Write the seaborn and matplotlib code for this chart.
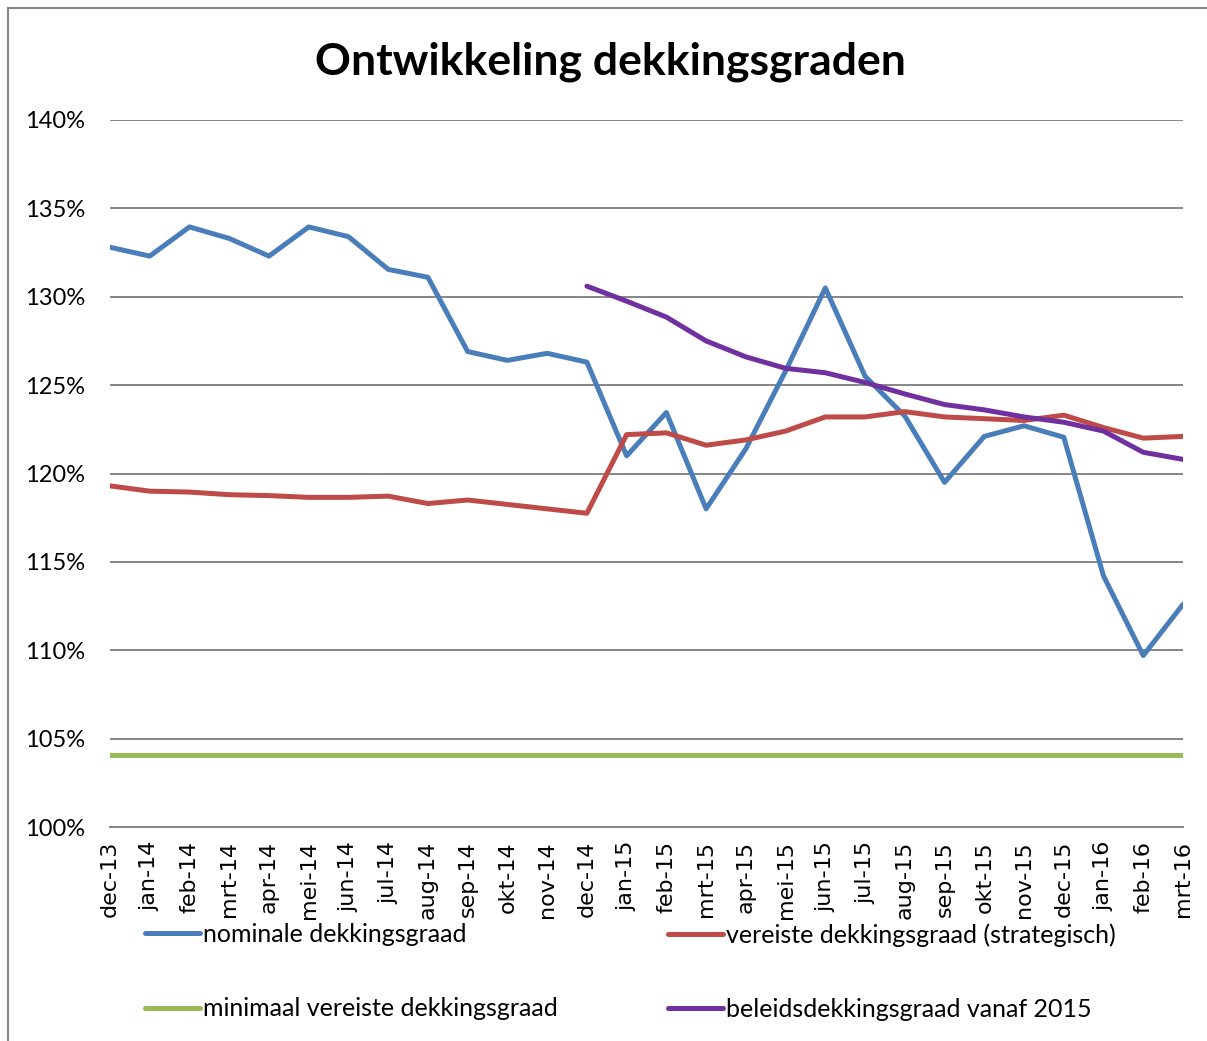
import numpy as np
import pandas as pd
import seaborn as sns
import matplotlib.pyplot as plt
from matplotlib.patches import Rectangle

# months on the x axis
months = ["dec-13", "jan-14", "feb-14", "mrt-14", "apr-14", "mei-14", "jun-14",
          "jul-14", "aug-14", "sep-14", "okt-14", "nov-14", "dec-14", "jan-15",
          "feb-15", "mrt-15", "apr-15", "mei-15", "jun-15", "jul-15", "aug-15",
          "sep-15", "okt-15", "nov-15", "dec-15", "jan-16", "feb-16", "mrt-16"]

# (percent)
nominaal = [132.8, 132.3, 133.95, 133.3, 132.3, 133.95, 133.4, 131.55, 131.1,
            126.9, 126.4, 126.8, 126.3, 121.0, 123.45, 118.0, 121.4, 125.8,
            130.5, 125.5, 123.25, 119.5, 122.1, 122.7, 122.05, 114.2, 109.7, 112.6]
vereist = [119.3, 119.0, 118.95, 118.8, 118.75, 118.65, 118.65, 118.72, 118.3,
           118.5, 118.25, 118.0, 117.75, 122.2, 122.3, 121.6, 121.9, 122.4,
           123.2, 123.2, 123.5, 123.2, 123.1, 123.0, 123.3, 122.6, 122.0, 122.1]
minimaal = [104.1] * len(months)
beleid = [np.nan] * 12 + [130.6, 129.75, 128.85, 127.5, 126.6, 125.95, 125.7,
                          125.15, 124.5, 123.9, 123.6, 123.2, 122.9, 122.4,
                          121.2, 120.8]

labels = ["nominale dekkingsgraad", "vereiste dekkingsgraad (strategisch)",
          "minimaal vereiste dekkingsgraad", "beleidsdekkingsgraad vanaf 2015"]
colors = ["#4A7EBB", "#BE4B48", "#98B954", "#7030A0"]

sns.set_style("white")
plt.rcParams['font.family'] = ['Lato', 'DejaVu Sans']
plt.rcParams['text.color'] = 'black'
plt.rcParams['xtick.color'] = 'black'
plt.rcParams['ytick.color'] = 'black'

fig = plt.figure(figsize=(12.07, 10.41), dpi=100)
ax = fig.add_axes([110 / 1207, 1 - 827 / 1041, (1183 - 110) / 1207, (827 - 120) / 1041])

x = np.arange(len(months))
for vals, lab, col in zip([nominaal, vereist, minimaal, beleid], labels, colors):
    sns.lineplot(x=x, y=vals, color=col, linewidth=3.6, ax=ax, label=lab)

ax.set_xlim(0, len(months) - 1)
ax.set_ylim(100, 140)
ax.set_yticks(range(100, 141, 5))
ax.set_yticklabels([f"{v}%" for v in range(100, 141, 5)], fontsize=17)
ax.set_xticks(x)
ax.set_xticklabels(months, rotation=90, fontsize=16, family='DejaVu Sans')
ax.grid(axis='y', color='#868686', linewidth=1.4)
ax.grid(axis='x', visible=False)
ax.set_axisbelow(True)
for s in ['top', 'right', 'left']:
    ax.spines[s].set_visible(False)
ax.spines['bottom'].set_color('#868686')
ax.spines['bottom'].set_linewidth(1.4)
ax.tick_params(axis='x', direction='in', length=5, width=1.4, color='#868686',
               labelcolor='black', pad=10)
ax.tick_params(axis='y', length=0, pad=18, labelcolor='black')

fig.text(610 / 1207, 1 - 62 / 1041, "Ontwikkeling dekkingsgraden", ha='center',
         va='center', fontsize=32, fontweight='bold', color='black')

# legend in two fixed columns like the Excel chart
handles, labs = ax.get_legend_handles_labels()
ax.get_legend().remove()
leg_kw = dict(loc='upper left', frameon=False, fontsize=18, handlelength=2.2,
              handletextpad=0.12, labelspacing=2.05, borderpad=0, borderaxespad=0)
leg1 = fig.legend([handles[0], handles[2]], [labs[0], labs[2]],
                  bbox_to_anchor=(145 / 1207, 1 - 923 / 1041), **leg_kw)
leg2 = fig.legend([handles[1], handles[3]], [labs[1], labs[3]],
                  bbox_to_anchor=(668 / 1207, 1 - 923 / 1041), **leg_kw)

# outer chart frame
fig.add_artist(Rectangle((8 / 1207, -0.1), 1.2, 1.1 - 8 / 1041, fill=False,
                         edgecolor='#868686', linewidth=1.5, transform=fig.transFigure))

plt.savefig("out.png", dpi=100)
